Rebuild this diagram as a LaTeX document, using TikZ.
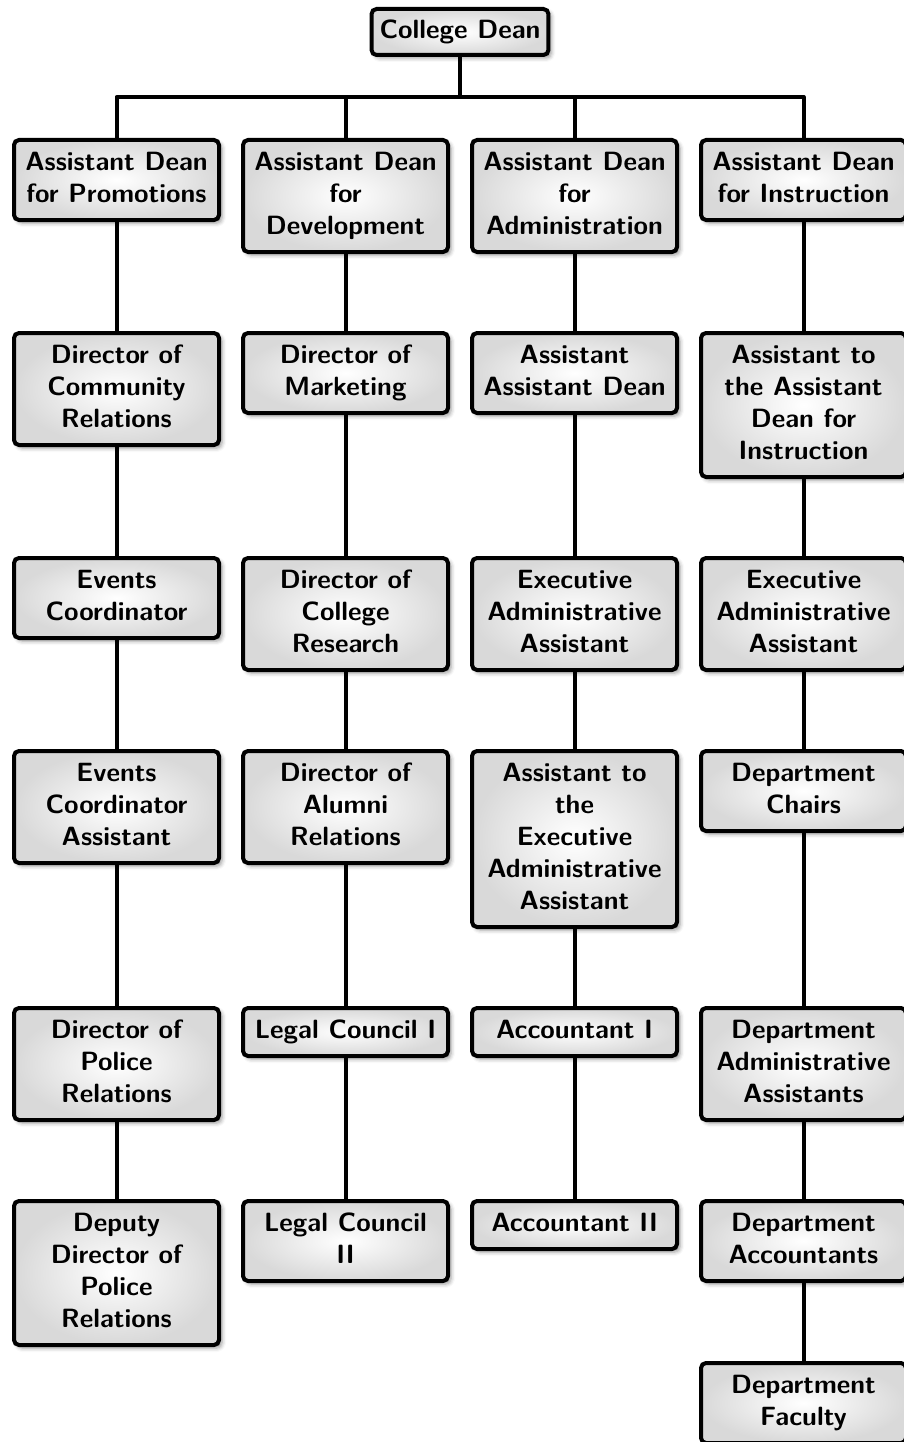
\documentclass[tikz,border=0pt]{standalone}
\usetikzlibrary{shadows.blur,backgrounds}
\newcommand\lab[1]{\rule{0pt}{22.4pt}#1\rule[-9.6pt]{0pt}{9.6pt}}
\tikzset{
  box/.style={draw=black, line width=4pt, rounded corners=5pt,
    shade, inner color=white, outer color=black!15,
    align=center, font=\sffamily\bfseries\fontsize{26.4}{32}\selectfont,
    inner xsep=8pt, inner ysep=8pt, minimum width=205pt, anchor=north,
    blur shadow={shadow xshift=3pt, shadow yshift=-3pt, shadow blur radius=4pt, shadow opacity=40}},
  topbox/.style={box, minimum width=0pt, inner ysep=7pt},
  conn/.style={line width=4pt, line join=round, line cap=butt}
}
\begin{document}
\begin{tikzpicture}[x=1pt,y=-1pt]
\useasboundingbox (0,0) rectangle (904,1442);
\node[topbox] (dean) at (460,7) {\lab{College Dean}};
\coordinate (bar) at (460,97);
% column 1
\node[box] (a1) at (116.5,138) {\lab{Assistant Dean\\for Promotions}};
\node[box] (a2) at (116.5,331) {\lab{Director of\\Community\\Relations}};
\node[box] (a3) at (116.5,556) {\lab{Events\\Coordinator}};
\node[box] (a4) at (116.5,749) {\lab{Events\\Coordinator\\Assistant}};
\node[box] (a5) at (116.5,1006) {\lab{Director of\\Police\\Relations}};
\node[box] (a6) at (116.5,1199) {\lab{Deputy\\Director of\\Police\\Relations}};
% column 2
\node[box] (b1) at (345.5,138) {\lab{Assistant Dean\\for\\Development}};
\node[box] (b2) at (345.5,331) {\lab{Director of\\Marketing}};
\node[box] (b3) at (345.5,556) {\lab{Director of\\College\\Research}};
\node[box] (b4) at (345.5,749) {\lab{Director of\\Alumni\\Relations}};
\node[box] (b5) at (345.5,1006) {\lab{Legal Council I}};
\node[box] (b6) at (345.5,1199) {\lab{Legal Council\\II}};
% column 3
\node[box] (c1) at (574.5,138) {\lab{Assistant Dean\\for\\Administration}};
\node[box] (c2) at (574.5,331) {\lab{Assistant\\Assistant Dean}};
\node[box] (c3) at (574.5,556) {\lab{Executive\\Administrative\\Assistant}};
\node[box] (c4) at (574.5,749) {\lab{Assistant to\\the\\Executive\\Administrative\\Assistant}};
\node[box] (c5) at (574.5,1006) {\lab{Accountant I}};
\node[box] (c6) at (574.5,1199) {\lab{Accountant II}};
% column 4
\node[box] (d1) at (803.5,138) {\lab{Assistant Dean\\for Instruction}};
\node[box] (d2) at (803.5,331) {\lab{Assistant to\\the Assistant\\Dean for\\Instruction}};
\node[box] (d3) at (803.5,556) {\lab{Executive\\Administrative\\Assistant}};
\node[box] (d4) at (803.5,749) {\lab{Department\\Chairs}};
\node[box] (d5) at (803.5,1006) {\lab{Department\\Administrative\\Assistants}};
\node[box] (d6) at (803.5,1199) {\lab{Department\\Accountants}};
\node[box] (d7) at (803.5,1361) {\lab{Department\\Faculty}};
\begin{pgfonlayer}{background}
\draw[conn] (dean.south) -- (bar);
\draw[conn] (a1.north) |- (bar) -| (d1.north);
\draw[conn] (b1.north) -- (b1.north |- bar);
\draw[conn] (c1.north) -- (c1.north |- bar);
\draw[conn] (a1) -- (a2); \draw[conn] (a2) -- (a3); \draw[conn] (a3) -- (a4);
\draw[conn] (a4) -- (a5); \draw[conn] (a5) -- (a6);
\draw[conn] (b1) -- (b2); \draw[conn] (b2) -- (b3); \draw[conn] (b3) -- (b4);
\draw[conn] (b4) -- (b5); \draw[conn] (b5) -- (b6);
\draw[conn] (c1) -- (c2); \draw[conn] (c2) -- (c3); \draw[conn] (c3) -- (c4);
\draw[conn] (c4) -- (c5); \draw[conn] (c5) -- (c6);
\draw[conn] (d1) -- (d2); \draw[conn] (d2) -- (d3); \draw[conn] (d3) -- (d4);
\draw[conn] (d4) -- (d5); \draw[conn] (d5) -- (d6); \draw[conn] (d6) -- (d7);
\end{pgfonlayer}
\end{tikzpicture}
\end{document}
